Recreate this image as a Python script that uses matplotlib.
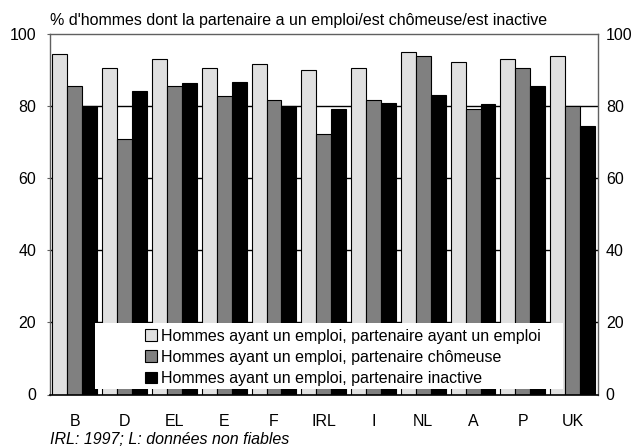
import matplotlib
matplotlib.use("Agg")
import matplotlib.pyplot as plt
import numpy as np
from matplotlib.patches import Rectangle

plt.rcParams['font.family'] = ['Liberation Sans', 'DejaVu Sans']

categories = ["B", "D", "EL", "E", "F", "IRL", "I", "NL", "A", "P", "UK"]
emploi = [94.4, 90.7, 93.1, 90.7, 91.6, 89.9, 90.7, 94.9, 92.1, 93.2, 94.0]
chomeuse = [85.7, 70.9, 85.6, 82.8, 81.6, 72.2, 81.6, 94.0, 79.3, 90.7, 79.9]
inactive = [79.9, 84.1, 86.5, 86.6, 79.9, 79.1, 80.9, 83.2, 80.7, 85.7, 74.5]
series_labels = ["Hommes ayant un emploi, partenaire ayant un emploi",
                 "Hommes ayant un emploi, partenaire chômeuse",
                 "Hommes ayant un emploi, partenaire inactive"]
colors = ["#e0e0e0", "#808080", "#000000"]
yticks = [0, 20, 40, 60, 80, 100]
FS = 11.5

fig = plt.figure(figsize=(6.37, 4.47), dpi=100)
ax = fig.add_axes([50/637, 1 - 394.5/447, 547.5/637, 360.5/447])

x = np.arange(len(categories))
w = 0.3
handles = []
for i, (vals, c, lab) in enumerate(zip([emploi, chomeuse, inactive], colors, series_labels)):
    h = ax.bar(x + (i - 1) * w, vals, width=w, color=c, edgecolor="#000000",
               linewidth=0.8, label=lab, zorder=3)
    handles.append(h)

ax.set_xlim(-0.5, len(categories) - 0.5)
ax.set_ylim(0, 100)
ax.set_yticks(yticks)
for yv in yticks[1:-1]:
    ax.axhline(yv, color="black", linewidth=1.0, zorder=1)

ax.set_xticks(x)
ax.set_xticklabels(categories, fontsize=FS)
ax.tick_params(axis="x", length=0, pad=14)
ax.tick_params(axis="y", labelsize=FS, length=2, direction="out", color="#606060",
               left=True, right=False, labelleft=True, labelright=False, pad=8)

ax2 = ax.twinx()
ax2.set_ylim(0, 100)
ax2.set_yticks(yticks)
ax2.tick_params(axis="y", labelsize=FS, length=0, pad=6)
for s in ax2.spines.values():
    s.set_visible(False)

for s in ["left", "right", "top"]:
    ax.spines[s].set_color("#606060")
    ax.spines[s].set_linewidth(1.0)
ax.spines["bottom"].set_color("black")
ax.spines["bottom"].set_linewidth(1.2)
ax.spines["bottom"].set_zorder(4)

# legend background box
rect = Rectangle((0.0822, 0.0153), 0.937 - 0.0822, 0.1975 - 0.0153,
                 transform=ax.transAxes, facecolor="white", edgecolor="none", zorder=5)
ax.add_patch(rect)
leg = ax.legend(handles=handles, loc="upper left", bbox_to_anchor=(0.162, 0.2),
                frameon=False, fontsize=FS, handlelength=0.75, handleheight=0.75,
                handletextpad=0.25, labelspacing=0.38, borderaxespad=0)
leg.set_zorder(6)

fig.text(50/637, 1 - 20/447, "% d'hommes dont la partenaire a un emploi/est chômeuse/est inactive",
         fontsize=FS, ha="left", va="center")
fig.text(50/637, 1 - 440/447, "IRL: 1997; L: données non fiables",
         fontsize=FS, style="italic", ha="left", va="center")

fig.savefig("out.png", dpi=100)
